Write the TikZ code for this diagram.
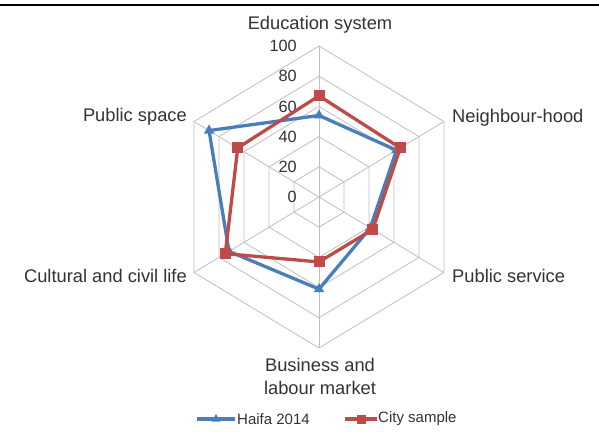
\documentclass[tikz,border=0pt]{standalone}
\usepackage{fontspec}
\setmainfont{Liberation Sans}
\usetikzlibrary{shapes.geometric}
\definecolor{hblue}{HTML}{4A7EBB}
\definecolor{cred}{HTML}{BE4B48}
\definecolor{gridc}{HTML}{BFBFBF}
\definecolor{txt}{HTML}{333333}
\begin{document}
\begin{tikzpicture}[x=1pt,y=-1pt,
 cat/.style={font=\fontsize{18.3}{23}\selectfont, text=txt, inner sep=0pt},
 num/.style={font=\fontsize{16.3}{18}\selectfont, text=txt, inner sep=0pt, anchor=east},
 leg/.style={font=\fontsize{15}{18}\selectfont, text=txt, inner sep=0pt, anchor=west},
 gridline/.style={draw=gridc, line width=0.8pt},
 haifa/.style={draw=hblue, line width=3.3pt, line join=round},
 city/.style={draw=cred, line width=3.3pt, line join=round},
 tri/.style={regular polygon, regular polygon sides=3, fill=hblue, inner sep=0pt, minimum size=12pt},
 sq/.style={rectangle, fill=cred, inner sep=0pt, minimum size=11pt}]
\useasboundingbox (0,0) rectangle (599,432);
\fill[white] (0,0) rectangle (599,432);
\coordinate (topL) at (0,5);
\coordinate (topR) at (599,5);
\draw[line width=1.5pt] (topL) -- (topR);
\coordinate (C) at (319,197);
\begin{scope}[shift={(C)}, x=1.443pt, y=1.51pt]
  \foreach \r in {20,40,60,80,100}
    \draw[gridline] (90:\r) -- (30:\r) -- (-30:\r) -- (-90:\r) -- (-150:\r) -- (150:\r) -- cycle;
  \foreach \a in {90,30,-30,-90,-150,150}
    \draw[gridline] (0,0) -- (\a:100);
  \foreach \v in {0,20,40,60,80,100}
    \node[num] (n\v) at (-15.3,\v) {\v};
  % Haifa 2014
  \coordinate (h1) at (90:54);
  \coordinate (h2) at (30:62);
  \coordinate (h3) at (-30:41);
  \coordinate (h4) at (-90:61);
  \coordinate (h5) at (-150:72);
  \coordinate (h6) at (150:88);
  % City sample
  \coordinate (c1) at (90:67);
  \coordinate (c2) at (30:65);
  \coordinate (c3) at (-30:43);
  \coordinate (c4) at (-90:43);
  \coordinate (c5) at (-150:75);
  \coordinate (c6) at (150:65);
\end{scope}
\draw[haifa] (h1) -- (h2) -- (h3) -- (h4) -- (h5) -- (h6) -- cycle;
\foreach \i in {1,...,6} \node[tri] (ht\i) at (h\i) {};
\draw[city] (c1) -- (c2) -- (c3) -- (c4) -- (c5) -- (c6) -- cycle;
\foreach \i in {1,...,6} \node[sq] (cs\i) at (c\i) {};
% category labels
\node[cat] (edu) at (320,25) {Education system};
\node[cat, anchor=west] (nb) at (452,118) {Neighbour-hood};
\node[cat, anchor=west] (ps) at (452,276) {Public service};
\node[cat, anchor=east] (psp) at (187,117) {Public space};
\node[cat, anchor=east] (cc) at (187,276) {Cultural and civil life};
\node[cat, align=center] (bl) at (320,376) {Business and\\labour market};
% legend
\coordinate (la) at (197,419);
\coordinate (lb) at (235,419);
\draw[haifa] (la) -- (lb);
\node[tri, minimum size=10pt] (lt) at (216,419) {};
\node[leg] (lh) at (237,419) {Haifa 2014};
\coordinate (ra) at (345,419);
\coordinate (rb) at (377,419);
\draw[city] (ra) -- (rb);
\node[sq, minimum size=9pt] (ls) at (361,419) {};
\node[leg] (lc) at (378,419) {City sample};
\end{tikzpicture}
\end{document}
